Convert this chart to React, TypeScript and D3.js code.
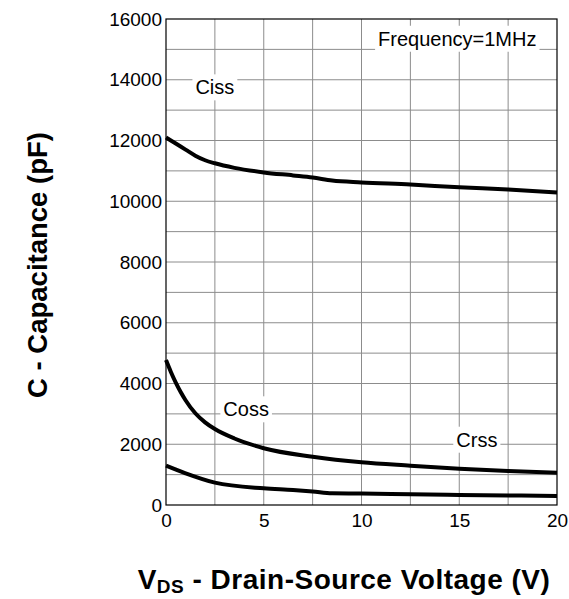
import { useEffect, useRef } from 'react';
import * as d3 from 'd3';

// V_DS sample points (V) and capacitances (pF)
const cissV = [0, 0.5, 1, 1.5, 2, 2.5, 3.5, 5, 6.5, 7.5, 8.5, 10, 12.5, 15, 17.5, 20];
const cissC = [12100, 11900, 11700, 11500, 11350, 11250, 11100, 10950, 10850, 10780, 10680, 10620, 10550, 10460, 10390, 10290];

const cossV = [0, 0.25, 0.5, 0.75, 1, 1.5, 2, 2.5, 3.5, 5, 7.5, 10, 12.5, 15, 17.5, 20];
const cossC = [4770, 4380, 4030, 3720, 3450, 3020, 2720, 2500, 2190, 1870, 1590, 1405, 1295, 1196, 1119, 1064];

const crssV = [0, 1, 2.5, 5, 6.5, 7.5, 8.5, 10, 12.5, 15, 17.5, 20];
const crssC = [1295, 1043, 735, 549, 494, 445, 385, 378, 350, 329, 316, 296];

const xTicks = [0, 5, 10, 15, 20];
const yTicks = [0, 2000, 4000, 6000, 8000, 10000, 12000, 14000, 16000];
const xGrid = [2.5, 5, 7.5, 10, 12.5, 15, 17.5];
const yGrid = [1000, 2000, 3000, 4000, 5000, 6000, 7000, 8000, 9000, 10000, 11000, 12000, 13000, 14000, 15000];

// curve labels: [text, x (V), y (pF)]
const labels: [string, number, number][] = [
  ['Ciss', 2.5, 13750],
  ['Coss', 4.1, 3150],
  ['Crss', 15.9, 2150],
  ['Frequency=1MHz', 14.9, 15350],
];

const font = 'Arial, "Liberation Sans", sans-serif';

export default function App() {
  const svgRef = useRef<SVGSVGElement>(null);

  useEffect(() => {
    const svg = d3.select(svgRef.current);
    svg.selectAll('*').remove();

    const width = 569;
    const height = 599;
    const margin = { top: 19, right: 12, bottom: 94, left: 166 };

    const x = d3.scaleLinear().domain([0, 20]).range([margin.left, width - margin.right]);
    const y = d3.scaleLinear().domain([0, 16000]).range([height - margin.bottom, margin.top]);

    svg.append('rect').attr('width', width).attr('height', height).attr('fill', '#fff');

    // grid
    const grid = svg.append('g').attr('stroke', '#8c8c8c').attr('stroke-width', 1);
    grid.selectAll('.gx').data(xGrid).join('line')
      .attr('x1', (d) => x(d)).attr('x2', (d) => x(d))
      .attr('y1', y(0)).attr('y2', y(16000));
    grid.selectAll('.gy').data(yGrid).join('line')
      .attr('class', 'gy')
      .attr('x1', x(0)).attr('x2', x(20))
      .attr('y1', (d) => y(d)).attr('y2', (d) => y(d));

    // curves
    const line = d3.line<[number, number]>()
      .x((d) => x(d[0]))
      .y((d) => y(d[1]))
      .curve(d3.curveMonotoneX);

    const series = [
      d3.zip(cissV, cissC),
      d3.zip(cossV, cossC),
      d3.zip(crssV, crssC),
    ] as [number, number][][];

    svg.append('g').selectAll('path').data(series).join('path')
      .attr('d', (d) => line(d))
      .attr('fill', 'none')
      .attr('stroke', '#000')
      .attr('stroke-width', 4)
      .attr('stroke-linejoin', 'round');

    // labels with white boxes
    const lab = svg.append('g').attr('font-family', font).attr('font-size', 20);
    labels.forEach(([t, vx, vy]) => {
      const g = lab.append('g');
      const txt = g.append('text')
        .attr('x', x(vx)).attr('y', y(vy))
        .attr('text-anchor', 'middle')
        .attr('dominant-baseline', 'central')
        .text(t);
      const bb = (txt.node() as SVGTextElement).getBBox();
      g.insert('rect', 'text')
        .attr('x', bb.x - 3).attr('y', bb.y - 2)
        .attr('width', bb.width + 6).attr('height', bb.height + 4)
        .attr('fill', '#fff');
    });

    // frame
    svg.append('rect')
      .attr('x', x(0)).attr('y', y(16000))
      .attr('width', x(20) - x(0)).attr('height', y(0) - y(16000))
      .attr('fill', 'none').attr('stroke', '#000').attr('stroke-width', 1.2);

    // axes (labels only)
    const xAxis = svg.append('g')
      .attr('transform', `translate(0,${y(0)})`)
      .call(d3.axisBottom(x).tickValues(xTicks).tickSize(0).tickPadding(9).tickFormat(d3.format('d')));
    xAxis.select('.domain').remove();

    const yAxis = svg.append('g')
      .attr('transform', `translate(${x(0)},0)`)
      .call(d3.axisLeft(y).tickValues(yTicks).tickSize(0).tickPadding(4).tickFormat(d3.format('d')));
    yAxis.select('.domain').remove();

    svg.selectAll('.tick text')
      .attr('font-family', font)
      .attr('font-size', 19)
      .attr('fill', '#000');

    // titles
    svg.append('text')
      .attr('transform', `translate(47,265) rotate(-90)`)
      .attr('text-anchor', 'middle')
      .attr('font-family', font)
      .attr('font-weight', 'bold')
      .attr('font-size', 27.5)
      .text('C - Capacitance (pF)');

    const xt = svg.append('text')
      .attr('x', 344).attr('y', 589)
      .attr('text-anchor', 'middle')
      .attr('font-family', font)
      .attr('font-weight', 'bold')
      .attr('font-size', 28)
      .attr('letter-spacing', 0.5);
    xt.append('tspan').text('V');
    xt.append('tspan').attr('font-size', 19).attr('dy', 4).text('DS');
    xt.append('tspan').attr('dy', -4).text(' - Drain-Source Voltage (V)');
  }, []);

  return (
    <svg
      ref={svgRef}
      width={569}
      height={599}
      style={{ position: 'absolute', left: 0, top: 0 }}
    />
  );
}
